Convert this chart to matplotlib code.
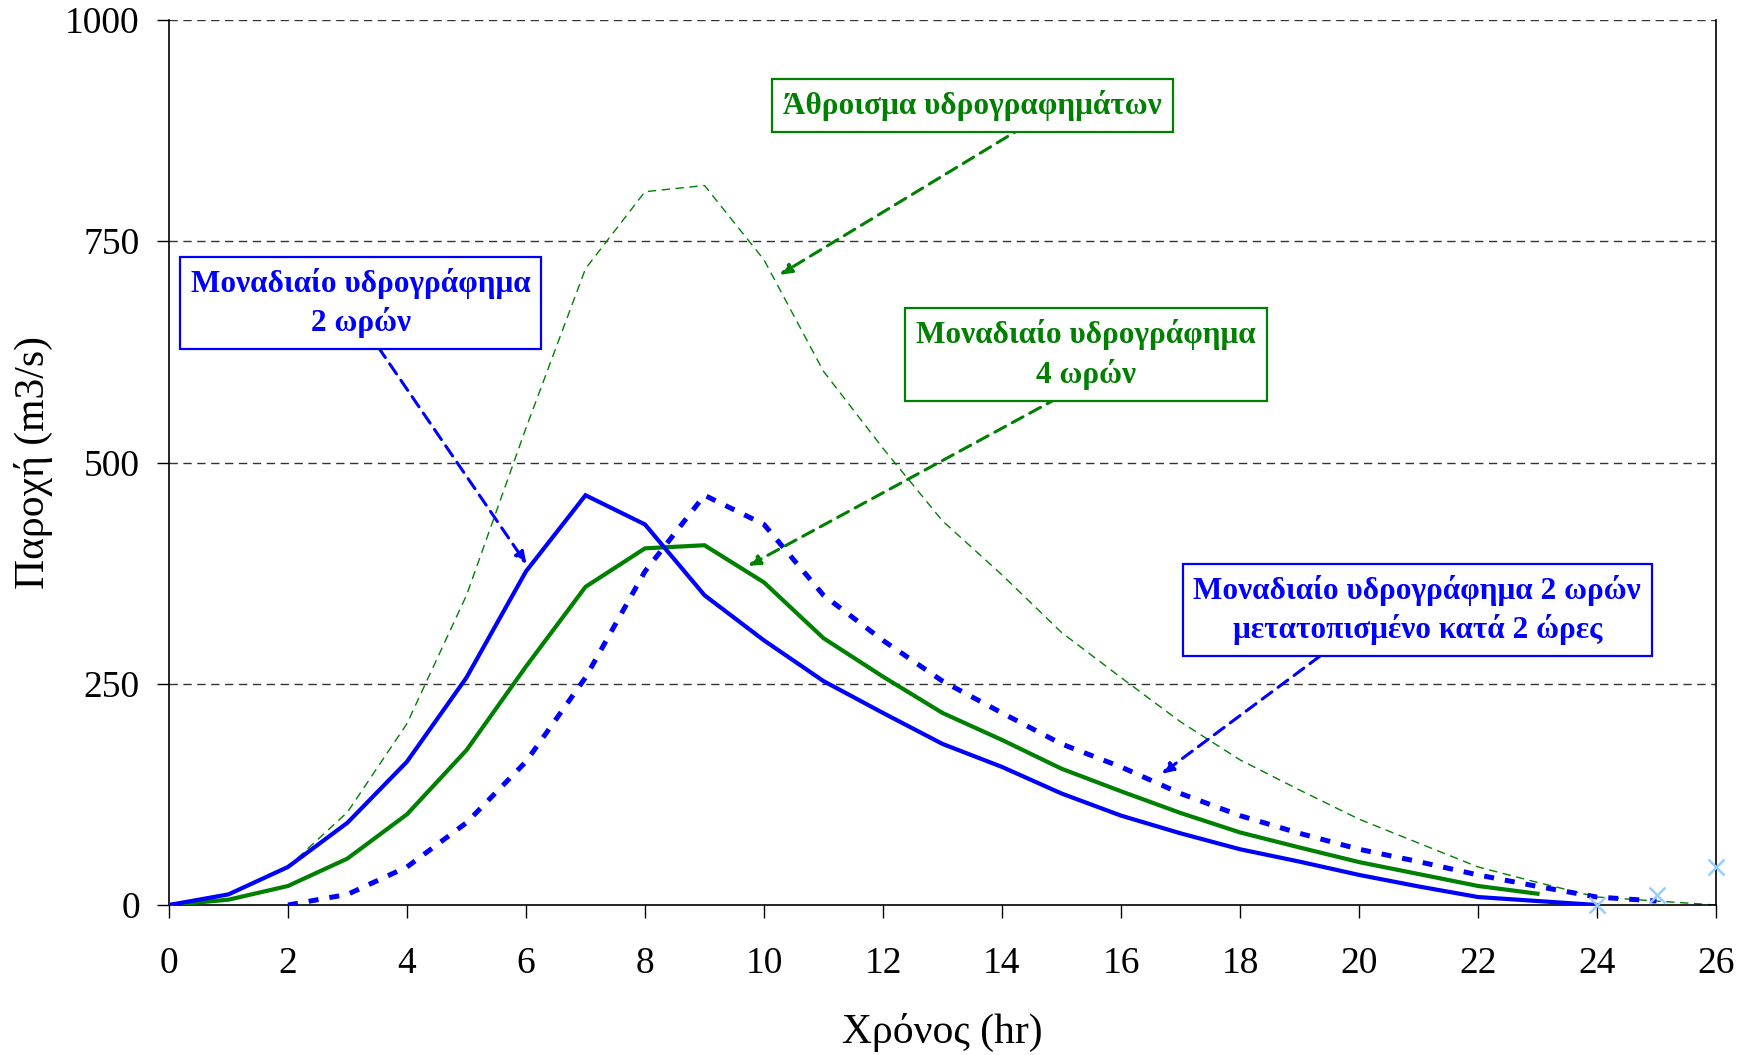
import matplotlib
matplotlib.use("Agg")
import matplotlib.pyplot as plt

# Unit hydrograph ordinates (m3/s) read at hourly steps
t_uh2 = list(range(0, 25))
q_uh2 = [0, 12, 43, 93, 162, 257, 377, 463, 430, 350, 299, 253, 217, 182,
         156, 126, 101, 81, 63, 49, 34, 21, 9, 4.5, 0]

# 2-hour unit hydrograph lagged by 2 hours
t_lag = list(range(2, 26))
q_lag = [0, 12, 43, 93, 162, 257, 377, 463, 430, 350, 299, 253, 217, 182,
         156, 126, 101, 81, 63, 49, 34, 21, 9, 4.5]

# Sum of the two hydrographs
t_sum = list(range(0, 27))
q_sum = [0, 12, 43, 105, 205, 350, 539, 719, 806, 813, 729, 603, 516, 434,
         373, 308, 257, 207, 164, 130, 97, 70, 43, 25.5, 9, 4.5, 0]

# 4-hour unit hydrograph
t_uh4 = list(range(0, 24))
q_uh4 = [0, 6, 21.5, 52.5, 102.5, 175, 269.5, 359.5, 403, 406.5, 364.5,
         301.5, 258, 217, 186.5, 154, 128.5, 104, 82, 65, 48.5, 35, 21.5, 12.75]

# Stray points at the end of the record
t_extra = [24, 25, 26]
q_extra = [0, 11, 43]

x_ticks = list(range(0, 27, 2))
y_ticks = [0, 250, 500, 750, 1000]

label_uh2 = "Μοναδιαίο υδρογράφημα\n2 ωρών"
label_sum = "Άθροισμα υδρογραφημάτων"
label_uh4 = "Μοναδιαίο υδρογράφημα\n4 ωρών"
label_lag = "Μοναδιαίο υδρογράφημα 2 ωρών\nμετατοπισμένο κατά 2 ώρες"
x_title = "Χρόνος (hr)"
y_title = "Παροχή (m3/s)"

plt.rcParams["font.family"] = ["Liberation Serif", "DejaVu Serif"]

BLUE = "#0000FF"
GREEN = "#008000"

fig = plt.figure(figsize=(17.46, 10.55), dpi=100)
ax = fig.add_axes([169 / 1746, 1 - 905 / 1055, (1716 - 169) / 1746, (905 - 20) / 1055])

# horizontal dashed grid
for yv in y_ticks[1:]:
    ax.axhline(yv, color="#333333", lw=1.0, ls=(0, (6, 4)), zorder=1)

ax.plot(t_sum, q_sum, color=GREEN, lw=1.0, ls=(0, (6, 4)), zorder=2)
ax.plot(t_lag, q_lag, color=BLUE, lw=3.6, ls=(0, (2, 2.2)),
        dash_capstyle="butt", zorder=3)
ax.plot(t_uh4, q_uh4, color=GREEN, lw=3.0, solid_joinstyle="miter", zorder=4)
ax.plot(t_uh2, q_uh2, color=BLUE, lw=3.0, solid_joinstyle="miter", zorder=5)
ax.plot(t_extra, q_extra, ls="none", marker="x", ms=12, mew=1.8,
        color="#99CCFF", zorder=6, clip_on=False)

ax.set_xlim(0, 26)
ax.set_ylim(0, 1000)
ax.set_xticks(x_ticks)
ax.set_yticks(y_ticks)
ax.tick_params(axis="both", direction="out", length=9, width=1.0,
               labelsize=27, colors="black")
ax.tick_params(axis="x", pad=21)
ax.tick_params(axis="y", pad=12)
ax.spines["top"].set_visible(False)
for s in ("left", "bottom", "right"):
    ax.spines[s].set_linewidth(1.2)
    ax.spines[s].set_color("black")

ax.set_xlabel(x_title, fontsize=30)
ax.xaxis.set_label_coords(0.5, -0.1435)
ax.xaxis.label.set_va("center")
ax.set_ylabel(y_title, fontsize=30)
ax.yaxis.set_label_coords(-0.0879, 0.5)
ax.yaxis.label.set_va("center")


def callout(text, color, xy_text, xy_start, xy_end):
    ax.text(*xy_text, text, color=color, fontsize=22.5, fontweight="bold",
            ha="center", va="center", linespacing=1.35, zorder=10,
            bbox=dict(boxstyle="square,pad=0.35", fc="white", ec=color, lw=1.6))
    ax.annotate("", xy=xy_end, xytext=xy_start, zorder=9,
                arrowprops=dict(arrowstyle="-|>,head_length=0.7,head_width=0.3",
                                color=color, lw=2.2, ls=(0, (4, 2.5)),
                                shrinkA=0, shrinkB=0))


callout(label_uh2, BLUE, (3.22, 680), (3.52, 630), (6.01, 385))
callout(label_sum, GREEN, (13.5, 903), (14.38, 880), (10.26, 712))
callout(label_uh4, GREEN, (15.41, 622), (14.94, 573), (9.73, 383))
callout(label_lag, BLUE, (20.98, 333), (19.34, 281), (16.68, 148))

fig.savefig("out.png", dpi=100, facecolor="white")
